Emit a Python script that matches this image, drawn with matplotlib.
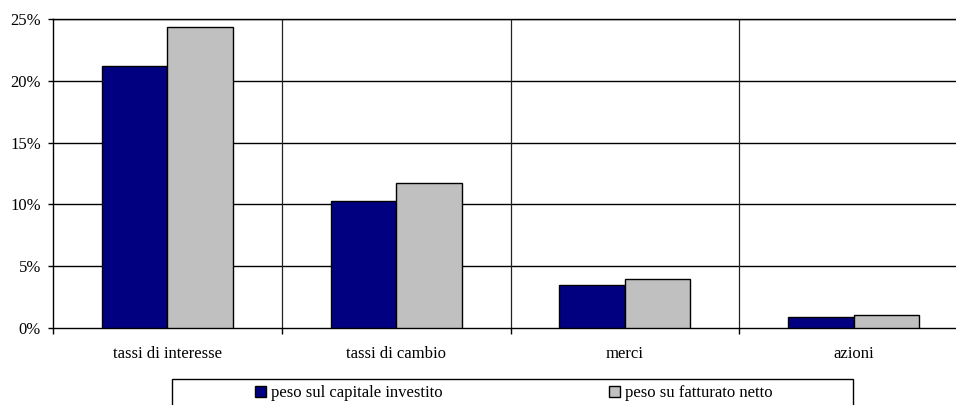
import matplotlib
matplotlib.use('Agg')
import matplotlib.pyplot as plt
import numpy as np
from matplotlib.patches import Rectangle, Patch
from matplotlib.ticker import FuncFormatter, FixedLocator

plt.rcParams['font.family'] = ['Liberation Serif', 'DejaVu Serif']

categories = ['tassi di interesse', 'tassi di cambio', 'merci', 'azioni']
capitale = [21.2, 10.25, 3.5, 0.92]
fatturato = [24.35, 11.72, 4.0, 1.05]
series_names = ['peso sul capitale investito', 'peso su fatturato netto']
yticks = [0, 5, 10, 15, 20, 25]

W, H = 956, 405
fig = plt.figure(figsize=(W / 100, H / 100), dpi=100)
left, right, top, bottom = 53, 968, 19, 328
ax = fig.add_axes([left / W, 1 - bottom / H, (right - left) / W, (bottom - top) / H])

x = np.arange(len(categories)) + 0.5
w = 0.286
ax.bar(x - w / 2, capitale, w, color='#000080', edgecolor='black', linewidth=1, zorder=3)
ax.bar(x + w / 2, fatturato, w, color='#C0C0C0', edgecolor='black', linewidth=1, zorder=3)

ax.set_xlim(0, len(categories))
ax.set_ylim(0, 25)
ax.set_yticks(yticks)
ax.yaxis.set_major_formatter(FuncFormatter(lambda v, p: '%d%%' % v))
ax.tick_params(axis='y', direction='out', length=3.6, width=1, pad=5, labelsize=12)

ax.xaxis.set_major_locator(FixedLocator(np.arange(len(categories) + 1)))
ax.xaxis.set_minor_locator(FixedLocator(x))
ax.set_xticklabels([])
ax.set_xticklabels(categories, minor=True)
ax.tick_params(axis='x', which='major', direction='out', length=4, width=1)
ax.tick_params(axis='x', which='minor', length=0, pad=12.8, labelsize=12)

for yv in yticks[1:]:
    ax.axhline(yv, color='black', linewidth=1, zorder=1)
for xv in range(1, len(categories)):
    ax.axvline(xv, color='#222222', linewidth=0.9, zorder=1)

for s in ['left', 'bottom', 'top', 'right']:
    ax.spines[s].set_linewidth(1)
    ax.spines[s].set_color('black')

# legend box
fig.patches.append(Rectangle((172 / W, -0.05), (853 - 172) / W, (H - 379) / H + 0.05,
                             transform=fig.transFigure, facecolor='white',
                             edgecolor='black', linewidth=1))
handles = [Patch(facecolor='#000080', edgecolor='black', linewidth=1),
           Patch(facecolor='#C0C0C0', edgecolor='black', linewidth=1)]
fig.legend(handles, series_names, loc='center', bbox_to_anchor=(514 / W, 1 - 393 / H),
           ncol=2, frameon=False, fontsize=12, handlelength=0.65, handleheight=0.65,
           handletextpad=0.3, columnspacing=10.0, borderpad=0)

fig.savefig('out.png', dpi=100)
